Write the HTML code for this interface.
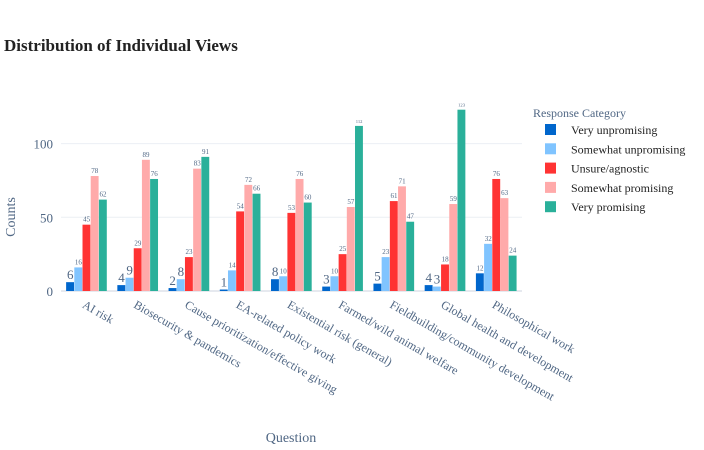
<!DOCTYPE html>
<html><head><meta charset="utf-8">
<style>
body{margin:0;background:#fff;}
svg{display:block;font-family:"Liberation Serif",serif;}
</style></head>
<body>
<svg id="chart" width="704" height="450">
<text x="4" y="51" font-size="17" font-weight="bold" fill="#222">Distribution of Individual Views</text>
<g id="grid"></g>
<g id="bars"></g>
<g id="xlabels"></g>
<text x="15" y="217" font-size="14" fill="#506784" transform="rotate(-90 15 217)" text-anchor="middle">Counts</text>
<text x="291" y="442" font-size="14" fill="#506784" text-anchor="middle">Question</text>
<g id="legend"></g>
</svg>
<script>
const categories=["AI risk","Biosecurity & pandemics","Cause prioritization/effective giving","EA-related policy work","Existential risk (general)","Farmed/wild animal welfare","Fieldbuilding/community development","Global health and development","Philosophical work"];
const seriesNames=["Very unpromising","Somewhat unpromising","Unsure/agnostic","Somewhat promising","Very promising"];
const veryUnpromising=[6,4,2,1,8,3,5,4,12];
const somewhatUnpromising=[16,9,8,14,10,10,23,3,32];
const unsure=[45,29,23,54,53,25,61,18,76];
const somewhatPromising=[78,89,83,72,76,57,71,59,63];
const veryPromising=[62,76,91,66,60,112,47,123,24];
const yTicks=[0,50,100];
const series=[veryUnpromising,somewhatUnpromising,unsure,somewhatPromising,veryPromising];
const colors=["#0066cc","#80c4ff","#ff3333","#ffaaaa","#2ab09a"];
const NS="http://www.w3.org/2000/svg";
const X0=61,X1=522,Y0=291,PPU=1.474;
const catW=(X1-X0)/categories.length;
const y=v=>Y0-v*PPU;
const xc=i=>X0+catW*(i+0.5);
function mk(t,a,p){const e=document.createElementNS(NS,t);for(const k in a)e.setAttribute(k,a[k]);p.appendChild(e);return e;}
const grid=document.getElementById('grid');
yTicks.forEach(t=>{
 const l=mk('line',{x1:X0,x2:X1,y1:y(t),y2:y(t),stroke:t===0?'#e6e9ef':'#ebeff4','stroke-width':t===0?2:1},grid);
 
 
 const tx=mk('text',{x:X0-8,y:y(t)+5,'text-anchor':'end','font-size':13,fill:'#506784'},grid);
 tx.textContent=t;
 
 
});
const bars=document.getElementById('bars');
const bw=catW*0.8/5;
categories.forEach((c,i)=>{
 series.forEach((s,j)=>{
  const v=s[i];const x=xc(i)-catW*0.4+j*bw;
  const r=mk('rect',{x:x,y:y(v),width:bw-0.3,height:v*PPU,fill:colors[j]},bars);
  
  
  const str=String(v);
  const fs=Math.min(13,bw*1.7/str.length);
  const t=mk('text',{x:x+bw/2,y:y(v)-3,'text-anchor':'middle','font-size':fs.toFixed(1),fill:'#506784'},bars);
  t.textContent=str;
  
  
 });
});
const xl=document.getElementById('xlabels');
categories.forEach((c,i)=>{
 const xx=xc(i)-5,yy=307;
 const t=mk('text',{x:xx,y:yy,'font-size':12,fill:'#506784',transform:`rotate(30 ${xx} ${yy})`},xl);
 t.textContent=c;
 
 
});
const lg=document.getElementById('legend');
const lt=mk('text',{x:533,y:117,'font-size':12,fill:'#506784'},lg);
lt.textContent='Response Category';


seriesNames.forEach((n,j)=>{
 const yy=130+j*19.3;
 const r=mk('rect',{x:545,y:yy-6,width:11,height:11,fill:colors[j]},lg);
 
 
 const t=mk('text',{x:571,y:yy+4,'font-size':12,fill:'#222'},lg);
 t.textContent=n;
 
 
});
</script>
</body></html>
